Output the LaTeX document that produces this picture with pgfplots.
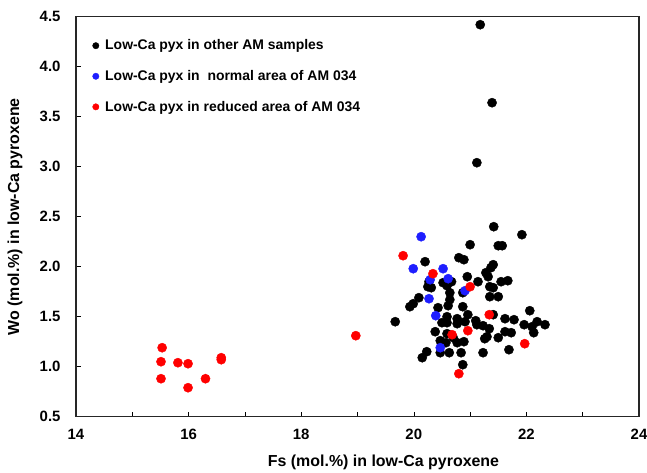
\documentclass[border=0pt]{standalone}
\usepackage{pgfplots}
\pgfplotsset{compat=1.18}
\usepackage{fontspec}
\setmainfont{Liberation Sans}
\begin{document}
\begin{tikzpicture}
\useasboundingbox (-76bp,-56.3bp) rectangle (571bp,416.7bp);
\begin{axis}[
  at={(0,0)}, anchor=south west,
  scale only axis, width=563bp, height=400bp,
  xmin=14, xmax=24, ymin=0.5, ymax=4.5,
  xtick={14,16,...,24}, minor xtick={15,17,...,23},
  ytick={0.5,1.0,...,4.5},
  tick pos=left, tick align=inside,
  major tick length=5bp, minor tick length=5bp,
  axis line style={line width=1.2pt, black!85},
  every tick/.style={black, line width=0.6pt},
  /pgf/number format/assume math mode=true,
  yticklabel style={xshift=-12bp, /pgf/number format/fixed, /pgf/number format/fixed zerofill, /pgf/number format/precision=1},
  tick label style={font=\fontsize{15}{17}\selectfont\bfseries},
  xticklabel style={yshift=-9bp},
  xlabel={Fs (mol.\%) in low-Ca pyroxene},
  ylabel={Wo (mol.\%) in low-Ca pyroxene},
  label style={font=\fontsize{16}{18}\selectfont\bfseries},
  xlabel style={at={(axis description cs:0.5,0)}, anchor=center, yshift=-45.5bp, xshift=26bp},
  ylabel style={at={(axis description cs:0,0.5)}, anchor=center, yshift=61bp},
  legend style={at={(0.0235,0.9525)}, anchor=north west, draw=none, fill=none,
    font=\fontsize{14}{16}\selectfont\bfseries, row sep=15bp,
    /tikz/every odd column/.append style={column sep=4bp}},
  legend cell align=left,
  legend image code/.code={\fill (0bp,0bp) circle (3.2bp);},
]
\addplot[only marks, mark=*, mark size=4.6bp, black, mark options={fill=black}] table {
21.18 4.42
21.39 3.64
21.12 3.04
21.42 2.40
21.92 2.32
21.00 2.22
21.50 2.21
21.57 2.21
20.20 2.05
20.80 2.09
20.89 2.07
21.41 2.02
21.37 1.99
21.28 1.94
21.32 1.90
21.55 1.85
21.67 1.86
21.14 1.85
20.95 1.90
20.25 1.80
20.31 1.79
20.27 1.85
20.67 1.85
20.09 1.69
19.93 1.60
20.52 1.84
20.59 1.81
20.64 1.74
20.64 1.67
20.61 1.61
20.87 1.74
21.35 1.80
21.41 1.79
21.50 1.70
21.35 1.70
20.87 1.60
20.43 1.59
19.99 1.63
19.67 1.45
20.59 1.50
20.59 1.44
20.50 1.44
20.96 1.52
20.77 1.48
20.77 1.43
20.91 1.45
21.10 1.46
21.12 1.42
21.23 1.41
21.34 1.38
21.41 1.52
21.62 1.48
21.78 1.47
21.62 1.35
21.73 1.34
21.50 1.29
21.26 1.28
21.30 1.30
20.38 1.35
20.59 1.33
20.70 1.29
20.77 1.24
20.47 1.26
20.57 1.24
20.89 1.25
20.47 1.14
20.63 1.14
20.84 1.14
20.23 1.15
20.15 1.09
21.23 1.14
21.69 1.17
20.87 1.02
22.06 1.56
22.19 1.45
22.33 1.42
21.96 1.42
22.10 1.40
22.13 1.34
};
\addlegendentry{Low-Ca pyx in other AM samples}
\addplot[only marks, mark=*, mark size=4.6bp, color={rgb,255:red,30;green,30;blue,255}] table {
20.13 2.30
19.99 1.98
20.52 1.98
20.29 1.87
20.61 1.88
20.91 1.76
20.27 1.68
20.39 1.51
20.47 1.19
};
\addlegendentry{Low-Ca pyx in\ \ normal area of AM 034}
\addplot[only marks, mark=*, mark size=4.6bp, red] table {
15.53 1.19
15.51 1.05
15.51 0.88
15.81 1.04
15.99 1.03
15.99 0.79
16.30 0.88
16.58 1.09
16.58 1.07
18.97 1.31
19.81 2.11
20.34 1.93
21.00 1.80
21.34 1.52
20.68 1.32
20.96 1.36
20.80 0.93
21.97 1.23
};
\addlegendentry{Low-Ca pyx in reduced area of AM 034}
\end{axis}
\end{tikzpicture}
\end{document}
